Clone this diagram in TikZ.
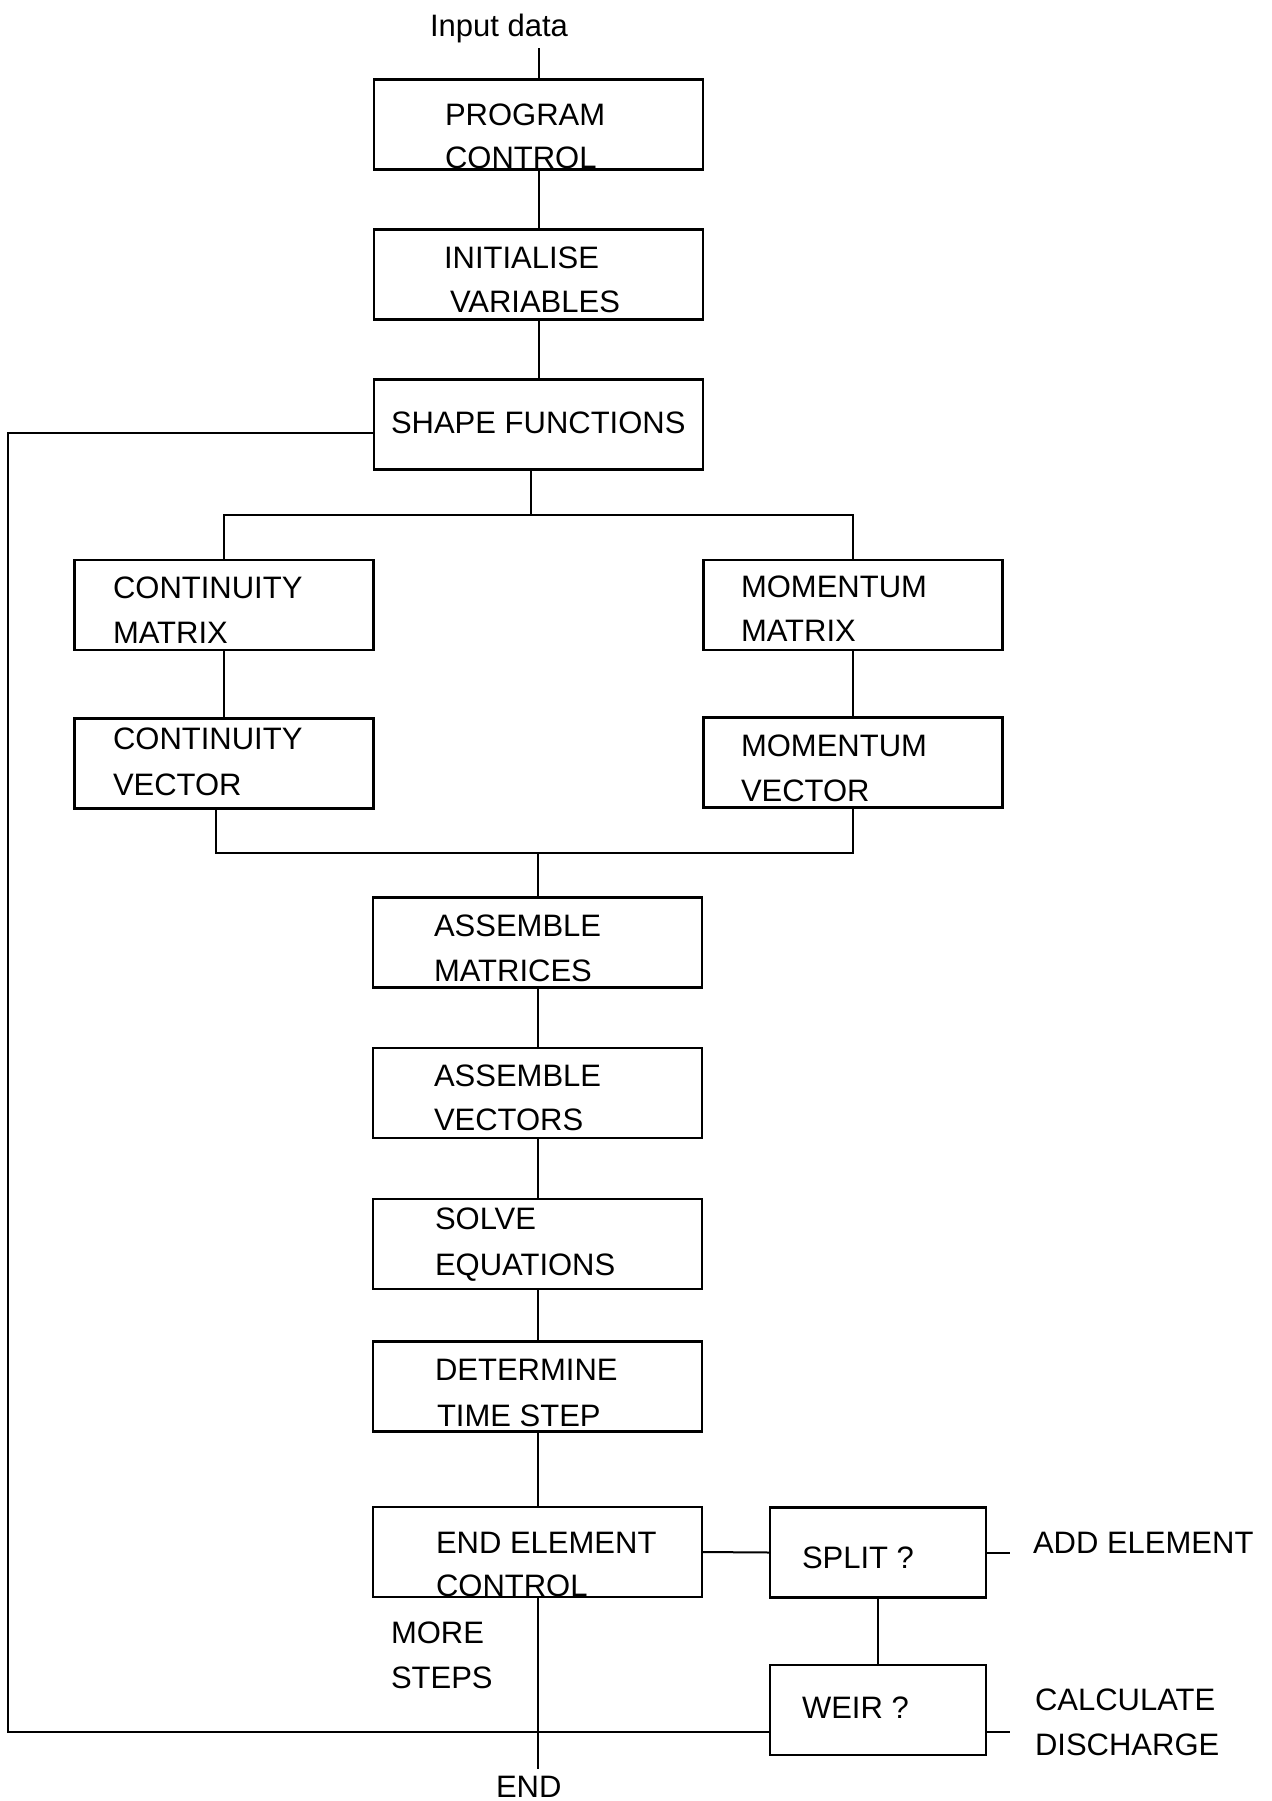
\documentclass[tikz,border=0pt]{standalone}
\usepackage{fontspec}
\setmainfont{Liberation Sans}
\begin{document}
\begin{tikzpicture}[x=0.5pt,y=-0.5pt,
  box/.style={draw,line width=1.3pt,rectangle,inner sep=0pt,outer sep=0pt,
              minimum width=164.5pt,minimum height=45pt},
  halfbox/.style={box,minimum width=149.5pt},
  sidebox/.style={box,minimum width=108pt},
  txt/.style={anchor=base west,inner sep=0pt,outer sep=0pt,
              font=\fontsize{15.5pt}{18pt}\selectfont},
  link/.style={line width=1pt}]
\useasboundingbox (0,0) rectangle (1271,1801);

% process boxes
\node[box] (pc) at (538.5,124.5) {};
\node[box] (iv) at (538.5,274.5) {};
\node[box] (sf) at (538.5,424.5) {};
\node[halfbox] (cm) at (224,605) {};
\node[halfbox] (cv) at (224,763.5) {};
\node[halfbox] (mm) at (853,605) {};
\node[halfbox] (mv) at (853,762.5) {};
\node[box] (am) at (537.5,942.5) {};
\node[box] (av) at (537.5,1093) {};
\node[box] (se) at (537.5,1244) {};
\node[box] (dt) at (537.5,1386.5) {};
\node[box] (ee) at (537.5,1552) {};
\node[sidebox] (sp) at (878,1552.5) {};
\node[sidebox] (we) at (878,1710) {};

% labels
\node[txt] (indata) at (430,36) {Input data};
\node[txt] (pc1) at (445,125) {PROGRAM};
\node[txt] (pc2) at (445,168) {CONTROL};
\node[txt] (iv1) at (444,268) {INITIALISE};
\node[txt] (iv2) at (450,312) {VARIABLES};
\node[txt] (sf1) at (391,433) {SHAPE FUNCTIONS};
\node[txt] (cm1) at (113,598) {CONTINUITY};
\node[txt] (cm2) at (113,643) {MATRIX};
\node[txt] (cv1) at (113,749) {CONTINUITY};
\node[txt] (cv2) at (113,795) {VECTOR};
\node[txt] (mm1) at (741,597) {MOMENTUM};
\node[txt] (mm2) at (741,641) {MATRIX};
\node[txt] (mv1) at (741,756) {MOMENTUM};
\node[txt] (mv2) at (741,801) {VECTOR};
\node[txt] (am1) at (434,936) {ASSEMBLE};
\node[txt] (am2) at (434,981) {MATRICES};
\node[txt] (av1) at (434,1086) {ASSEMBLE};
\node[txt] (av2) at (434,1130) {VECTORS};
\node[txt] (se1) at (435,1229) {SOLVE};
\node[txt] (se2) at (435,1275) {EQUATIONS};
\node[txt] (dt1) at (435,1380) {DETERMINE};
\node[txt] (dt2) at (437,1426) {TIME STEP};
\node[txt] (ee1) at (436,1553) {END ELEMENT};
\node[txt] (ee2) at (436,1596) {CONTROL};
\node[txt] (sp1) at (802,1568) {SPLIT ?};
\node[txt] (we1) at (802,1718) {WEIR ?};
\node[txt] (add) at (1033,1553) {ADD ELEMENT};
\node[txt] (cd1) at (1035,1710) {CALCULATE};
\node[txt] (cd2) at (1035,1755) {DISCHARGE};
\node[txt] (ms1) at (391,1643) {MORE};
\node[txt] (ms2) at (391,1688) {STEPS};
\node[txt] (endt) at (496,1797) {END};

% junction points
\coordinate (inp) at (538.5,48);
\coordinate (bus) at (531,515);
\coordinate (mrg) at (537.5,853);
\coordinate (lx) at (8,0);
\coordinate (endp) at (537.5,1769);
\coordinate (sfl) at ([yshift=-4.25pt]sf.west);
\coordinate (wel) at ([yshift=-11pt]we.west);
\coordinate (wer) at ([yshift=-11pt]we.east);

% connectors
\draw[link] (inp) -- (pc.north);
\draw[link] (pc.south) -- (iv.north);
\draw[link] (iv.south) -- (sf.north);
\draw[link] ([xshift=-3.75pt]sf.south) -- (bus);
\draw[link] (cm.north) -- (cm.north |- bus) -- (mm.north |- bus) -- (mm.north);
\draw[link] (cm.south) -- (cv.north);
\draw[link] (mm.south) -- (mv.north);
\draw[link] ([xshift=-4pt]cv.south) |- (mrg) -| (mv.south);
\draw[link] (mrg) -- (am.north);
\draw[link] (am.south) -- (av.north);
\draw[link] (av.south) -- (se.north);
\draw[link] (se.south) -- (dt.north);
\draw[link] (dt.south) -- (ee.north);
\draw[link] (ee.east) -- (sp.west);
\draw[link] (sp.south) -- (we.north);
\draw[link] (sp.east) -- ([xshift=12pt]sp.east);
\draw[link] (wer) -- ([xshift=12pt]wer);
\draw[link] (ee.south) -- (endp);
% loop back for more steps
\draw[link] (sfl) -- (sfl -| lx) -- (lx |- wel) -- (wel);
\end{tikzpicture}
\end{document}
